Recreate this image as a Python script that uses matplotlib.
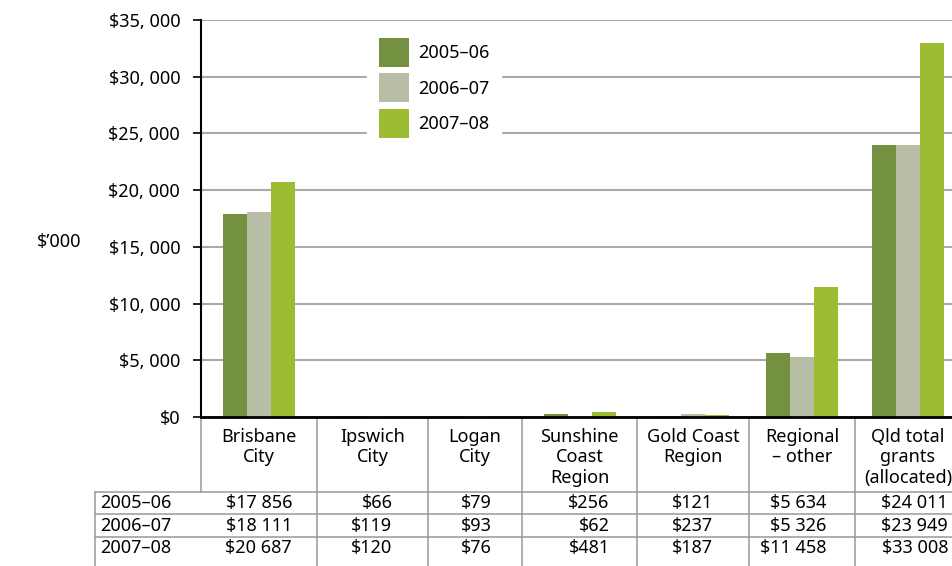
# Grants by region, three financial years, bar chart with data table below

import matplotlib.pyplot as plt
from matplotlib import transforms

plt.rcParams['font.family'] = ['Noto Sans', 'DejaVu Sans']
FS = 13

# data
regions = ['Brisbane\nCity', 'Ipswich\nCity', 'Logan\nCity', 'Sunshine\nCoast\nRegion',
           'Gold Coast\nRegion', 'Regional\n– other', 'Qld total\ngrants\n(allocated)']
years = ['2005–06', '2006–07', '2007–08']
v0506 = [17856, 66, 79, 256, 121, 5634, 24011]
v0607 = [18111, 119, 93, 62, 237, 5326, 23949]
v0708 = [20687, 120, 76, 481, 187, 11458, 33008]
yticks = [0, 5000, 10000, 15000, 20000, 25000, 30000, 35000]

colors = ['#749141', '#b8bda6', '#9cbc33']
series = [v0506, v0607, v0708]

# column widths in pixels (table columns are not equal)
col_w = [116, 111, 94, 115, 112, 106, 106]
val_off = [33, 20, 17, 30, 20, 24, 40]   # right edge of the numbers from column centre

W, H = 952, 566
fig = plt.figure(figsize=(W / 100, H / 100), dpi=100)
y0_px, y1_px = 417, 20
ax = fig.add_axes([201 / W, (H - y0_px) / H, sum(col_w) / W, (y0_px - y1_px) / H])

edges = [0]
for w in col_w:
    edges.append(edges[-1] + w)
centers = [(edges[i] + edges[i + 1]) / 2 for i in range(len(col_w))]

bw = 24
for k, (vals, c, lab) in enumerate(zip(series, colors, years)):
    xs = [cx + (k - 1) * bw for cx in centers]
    ax.bar(xs, vals, width=bw, color=c, label=lab, zorder=3)

ax.set_xlim(0, sum(col_w))
ax.set_ylim(0, 35000)
ax.set_yticks(yticks)
ax.set_yticklabels(['$' + f'{v:,}'.replace(',', ', ') for v in yticks], fontsize=FS)
ax.set_xticks([])
ax.grid(axis='y', color='#aaaaaa', linewidth=1.5, zorder=0)
ax.tick_params(axis='y', length=6, width=1.2, color='black', pad=9)
for s in ['top', 'right']:
    ax.spines[s].set_visible(False)
ax.spines['left'].set_linewidth(1.5)
ax.spines['bottom'].set_linewidth(2)
ax.spines['bottom'].set_zorder(4)

leg = ax.legend(loc='upper left', bbox_to_anchor=(367 / W, 1 - 26 / H),
                bbox_transform=fig.transFigure, fontsize=FS, frameon=True,
                fancybox=False, framealpha=1, edgecolor='white',
                handlelength=1.66, handleheight=2.07, handletextpad=0.5,
                labelspacing=0.38, borderpad=0.66, borderaxespad=0)
leg.set_zorder(5)

fig.text(37 / W, 1 - 242 / H, '$’000', fontsize=FS, va='center', ha='left')

# table under the axis: x in data units, y in pixels from the top of the figure
def ypx(py):
    return (y0_px - py) / (y0_px - y1_px)

tr = transforms.blended_transform_factory(ax.transData, ax.transAxes)
line_kw = dict(color='#999999', linewidth=1.1, transform=tr, clip_on=False, zorder=2)

row_top = [492, 514, 537]
row_mid = [503, 526, 548]
left_edge = 95 - 201

for py in row_top:
    ax.plot([left_edge, sum(col_w) + 10], [ypx(py), ypx(py)], **line_kw)
# header verticals
for x in edges[:-1]:
    ax.plot([x, x], [ypx(417), ypx(492)], **line_kw)
# data verticals
for x in [left_edge] + edges[1:-1]:
    ax.plot([x, x], [ypx(492), ypx(570)], **line_kw)

for cx, name in zip(centers, regions):
    ax.text(cx, ypx(428), name, ha='center', va='top', fontsize=FS,
            linespacing=1.17, transform=tr, clip_on=False)

for r, (lab, vals) in enumerate(zip(years, series)):
    ax.text(left_edge + 5, ypx(row_mid[r]), lab, ha='left', va='center',
            fontsize=FS, transform=tr, clip_on=False)
    for cx, off, v in zip(centers, val_off, vals):
        ax.text(cx + off, ypx(row_mid[r]), '$' + f'{v:,}'.replace(',', ' '),
                ha='right', va='center', fontsize=FS, transform=tr, clip_on=False)

fig.savefig('out.png', dpi=100)
